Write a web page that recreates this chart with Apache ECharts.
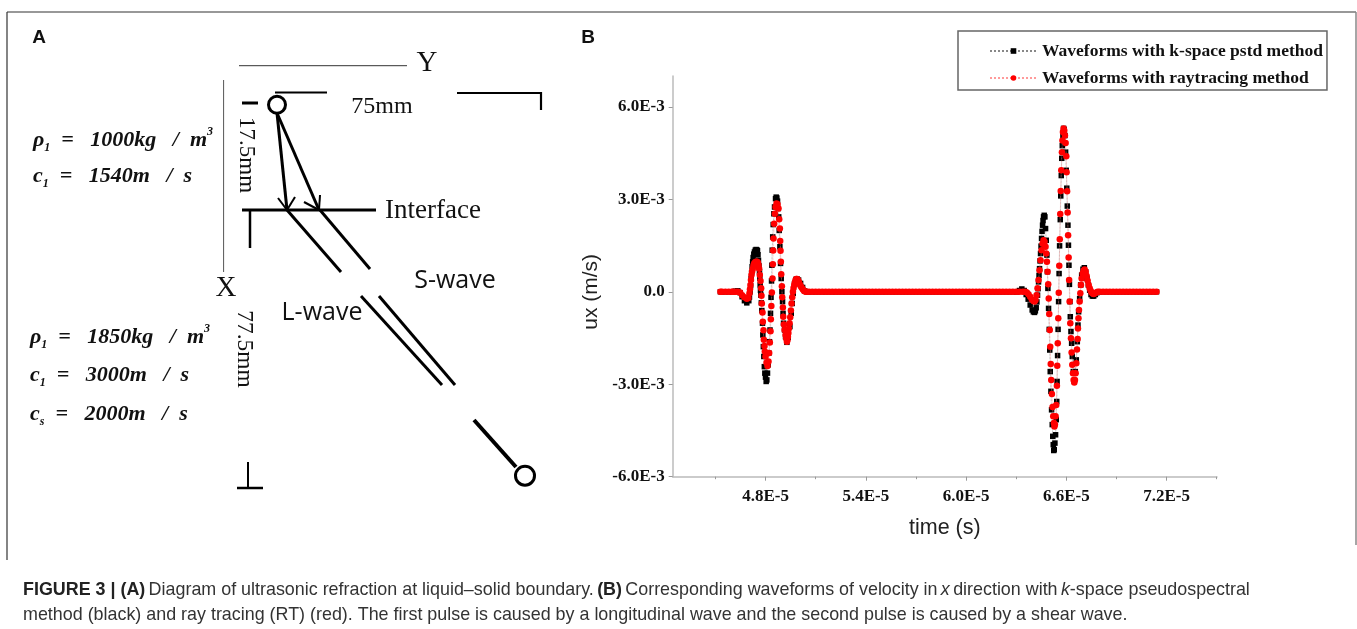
<!DOCTYPE html>
<html><head><meta charset="utf-8">
<style>html,body{margin:0;padding:0;background:#fff}#c{width:1357px;height:629px}</style>
<script src="https://cdn.jsdelivr.net/npm/echarts@6/dist/echarts.min.js"></script>
</head><body><div id="c"></div>
<script>
// time in units of 1E-5 s, ux in units of 1E-3 m/s
const seriesNames=['Waveforms with k-space pstd method','Waveforms with raytracing method'];
const xTickValues=[4.8,5.4,6.0,6.6,7.2];
const xMinorValues=[4.5,5.1,5.7,6.3,6.9,7.5];
const yTickValues=[-6,-3,0,3,6];
const flatStart=[4.53,4.54,4.56,4.58,4.60];
const flatMiddle=[5.06,5.08,5.10,5.12,5.14,5.16,5.18,5.20,5.22,5.24,5.26,5.28,5.30,5.32,5.34,5.36,5.38,5.40,5.42,5.44,5.46,5.48,5.50,5.52,5.54,5.56,5.58,5.60,5.62,5.64,5.66,5.68,5.70,5.72,5.74,5.76,5.78,5.80,5.82,5.84,5.86,5.88,5.90,5.92,5.94,5.96,5.98,6.00,6.02,6.04,6.06,6.08,6.10,6.12,6.14,6.16,6.18,6.20,6.22,6.24,6.26,6.28,6.30];
const flatEnd=[6.80,6.82,6.84,6.86,6.88,6.90,6.92,6.94,6.96,6.98,7.00,7.02,7.04,7.06,7.08,7.10,7.12,7.14];
const blackPulse1=[[4.604,0],[4.620,0.02],[4.634,0.03],[4.648,-0.03],[4.660,-0.16],[4.674,-0.29],[4.688,-0.36],[4.700,-0.29],[4.704,-0.17],[4.708,0],[4.711,0.20],[4.714,0.43],[4.717,0.62],[4.720,0.81],[4.723,0.97],[4.726,1.11],[4.730,1.22],[4.734,1.29],[4.739,1.35],[4.744,1.37],[4.748,1.36],[4.752,1.33],[4.755,1.20],[4.758,1.02],[4.761,0.84],[4.764,0.65],[4.766,0.44],[4.768,0.22],[4.770,0.05],[4.772,-0.11],[4.775,-0.36],[4.778,-0.61],[4.782,-1.02],[4.784,-1.40],[4.787,-1.78],[4.790,-2.10],[4.793,-2.43],[4.796,-2.64],[4.800,-2.77],[4.804,-2.91],[4.808,-2.86],[4.812,-2.64],[4.816,-2.37],[4.820,-1.99],[4.824,-1.62],[4.827,-1.24],[4.830,-0.70],[4.833,-0.18],[4.836,0.35],[4.838,0.86],[4.840,1.35],[4.843,1.78],[4.846,2.18],[4.850,2.53],[4.854,2.75],[4.860,3.02],[4.864,3.07],[4.868,3.04],[4.872,2.94],[4.876,2.70],[4.879,2.43],[4.882,1.99],[4.886,1.46],[4.890,0.92],[4.894,0.43],[4.898,0],[4.902,-0.32],[4.905,-0.70],[4.908,-1.02],[4.914,-1.24],[4.920,-1.46],[4.928,-1.64],[4.936,-1.48],[4.946,-1.13],[4.954,-0.70],[4.960,-0.38],[4.966,-0.05],[4.974,0.25],[4.982,0.40],[4.990,0.41],[4.998,0.38],[5.010,0.27],[5.022,0.14],[5.034,0.03],[5.048,0]];
const blackPulse2=[[6.304,0],[6.320,0.04],[6.334,0.09],[6.348,0.04],[6.360,-0.09],[6.372,-0.24],[6.384,-0.43],[6.396,-0.59],[6.403,-0.65],[6.410,-0.67],[6.415,-0.62],[6.420,-0.52],[6.424,-0.33],[6.428,-0.11],[6.431,0.10],[6.434,0.32],[6.437,0.53],[6.440,0.75],[6.443,1.00],[6.446,1.24],[6.449,1.48],[6.452,1.73],[6.455,1.96],[6.458,2.16],[6.461,2.31],[6.464,2.43],[6.468,2.48],[6.472,2.43],[6.476,2.05],[6.480,1.67],[6.484,1.19],[6.487,0.65],[6.490,0.11],[6.494,-0.54],[6.498,-1.22],[6.501,-1.89],[6.504,-2.59],[6.508,-3.23],[6.512,-3.83],[6.516,-4.31],[6.519,-4.69],[6.522,-4.96],[6.525,-5.15],[6.528,-5.12],[6.532,-4.91],[6.536,-4.64],[6.540,-4.15],[6.543,-3.56],[6.545,-2.91],[6.548,-2.07],[6.551,-1.22],[6.554,-0.32],[6.557,0.59],[6.560,1.49],[6.564,2.34],[6.567,3.11],[6.570,3.77],[6.573,4.33],[6.576,4.74],[6.580,5.07],[6.584,5.30],[6.588,5.26],[6.592,5.07],[6.596,4.53],[6.600,3.94],[6.603,3.36],[6.606,2.78],[6.610,2.16],[6.613,1.51],[6.616,0.86],[6.619,0.24],[6.622,-0.32],[6.624,-0.81],[6.628,-1.29],[6.632,-1.67],[6.636,-2.10],[6.642,-2.59],[6.648,-2.91],[6.654,-2.59],[6.660,-2.21],[6.666,-1.62],[6.670,-1.08],[6.674,-0.65],[6.680,-0.22],[6.686,0.22],[6.692,0.54],[6.700,0.73],[6.708,0.78],[6.716,0.65],[6.724,0.43],[6.732,0.22],[6.740,0.05],[6.748,-0.09],[6.756,-0.14],[6.764,-0.14],[6.774,-0.09],[6.784,-0.03],[6.794,0]];
const redPulse1=[[4.604,0],[4.620,0],[4.634,0],[4.648,-0.02],[4.660,-0.11],[4.674,-0.18],[4.688,-0.23],[4.698,-0.20],[4.704,-0.05],[4.707,0.08],[4.710,0.22],[4.713,0.38],[4.716,0.54],[4.720,0.66],[4.724,0.75],[4.728,0.85],[4.732,0.92],[4.738,0.96],[4.744,0.97],[4.749,0.97],[4.754,0.95],[4.758,0.87],[4.762,0.75],[4.766,0.54],[4.770,0.35],[4.774,0.11],[4.776,-0.13],[4.778,-0.38],[4.782,-0.67],[4.784,-0.97],[4.788,-1.25],[4.790,-1.56],[4.794,-1.76],[4.796,-1.94],[4.800,-2.10],[4.806,-2.30],[4.812,-2.41],[4.818,-2.26],[4.822,-1.99],[4.826,-1.65],[4.830,-1.28],[4.832,-0.89],[4.835,-0.46],[4.838,-0.02],[4.842,0.43],[4.844,0.89],[4.846,1.34],[4.848,1.73],[4.852,2.21],[4.856,2.53],[4.860,2.75],[4.866,2.86],[4.872,2.84],[4.878,2.70],[4.882,2.35],[4.886,2.05],[4.888,1.65],[4.890,1.33],[4.892,0.97],[4.894,0.57],[4.898,0.18],[4.900,-0.18],[4.904,-0.51],[4.906,-0.81],[4.910,-1.06],[4.914,-1.24],[4.920,-1.40],[4.924,-1.52],[4.928,-1.62],[4.931,-1.57],[4.934,-1.46],[4.937,-1.34],[4.940,-1.19],[4.944,-1.02],[4.948,-0.83],[4.952,-0.61],[4.956,-0.38],[4.960,-0.18],[4.964,0],[4.968,0.12],[4.972,0.22],[4.976,0.31],[4.980,0.38],[4.984,0.41],[4.988,0.41],[4.992,0.40],[4.996,0.36],[5.000,0.31],[5.004,0.25],[5.010,0.19],[5.016,0.14],[5.023,0.08],[5.030,0.03],[5.037,0.01],[5.044,0]];
const redPulse2=[[6.320,0],[6.340,0],[6.354,0],[6.364,-0.02],[6.374,-0.08],[6.384,-0.16],[6.394,-0.25],[6.404,-0.30],[6.410,-0.32],[6.416,-0.27],[6.422,-0.11],[6.428,0.11],[6.434,0.38],[6.440,0.70],[6.446,1.02],[6.452,1.35],[6.458,1.56],[6.464,1.67],[6.470,1.62],[6.476,1.46],[6.480,1.24],[6.484,0.97],[6.488,0.65],[6.492,0.24],[6.495,-0.22],[6.498,-0.72],[6.501,-1.24],[6.504,-1.78],[6.507,-2.34],[6.510,-2.86],[6.514,-3.32],[6.518,-3.74],[6.522,-4.04],[6.526,-4.26],[6.529,-4.37],[6.532,-4.31],[6.536,-4.04],[6.540,-3.67],[6.544,-3.05],[6.546,-2.40],[6.549,-1.67],[6.552,-0.86],[6.555,-0.03],[6.558,0.84],[6.561,1.70],[6.564,2.52],[6.567,3.27],[6.570,3.94],[6.574,4.53],[6.577,4.91],[6.580,5.18],[6.584,5.30],[6.588,5.23],[6.592,5.07],[6.596,4.83],[6.600,4.40],[6.602,3.88],[6.605,3.26],[6.608,2.57],[6.611,1.83],[6.614,1.11],[6.617,0.38],[6.620,-0.32],[6.624,-1.02],[6.628,-1.51],[6.632,-1.97],[6.636,-2.37],[6.640,-2.64],[6.644,-2.86],[6.648,-2.94],[6.652,-2.86],[6.656,-2.64],[6.660,-2.32],[6.664,-1.87],[6.668,-1.53],[6.670,-1.19],[6.673,-0.86],[6.676,-0.59],[6.680,-0.32],[6.684,-0.05],[6.688,0.22],[6.692,0.43],[6.698,0.59],[6.704,0.69],[6.710,0.72],[6.716,0.65],[6.722,0.51],[6.728,0.36],[6.734,0.22],[6.740,0.11],[6.746,0.03],[6.752,-0.02],[6.758,-0.06],[6.764,-0.07],[6.772,-0.05],[6.780,-0.02],[6.788,0]];

const flat=a=>a.map(t=>[t,0]);
const blackData=[...flat(flatStart),...blackPulse1,...flat(flatMiddle),...blackPulse2,...flat(flatEnd)];
const redData=[...flat(flatStart),...redPulse1,...flat(flatMiddle),...redPulse2,...flat(flatEnd)];

const SERIF='"Liberation Serif"',SANS='"Liberation Sans"';
const line=(x1,y1,x2,y2,w,c)=>({type:'line',silent:true,shape:{x1,y1,x2,y2},style:{stroke:c||'#000',lineWidth:w}});
const ring=(cx,cy,r,w)=>({type:'circle',silent:true,shape:{cx,cy,r},style:{fill:'#fff',stroke:'#000',lineWidth:w}});
const label=(text,x,y,font,size,opt)=>Object.assign({type:'text',silent:true,x,y,style:{text,fontFamily:font,fontSize:size,fill:'#111',align:'center',verticalAlign:'middle'}},opt||{});
const formula=(text,x,y)=>({type:'text',silent:true,x,y,style:{text,fill:'#111',align:'left',verticalAlign:'middle',rich:{
  m:{fontFamily:SERIF,fontStyle:'italic',fontWeight:'bold',fontSize:22,fill:'#111'},
  s:{fontFamily:SERIF,fontStyle:'italic',fontWeight:'bold',fontSize:12,fill:'#111',verticalAlign:'bottom',lineHeight:28},
  u:{fontFamily:SERIF,fontStyle:'italic',fontWeight:'bold',fontSize:12,fill:'#111',verticalAlign:'top',lineHeight:28}}}});
const capRich={n:{fontFamily:SANS,fontSize:17.9,fill:'#333'},b:{fontFamily:SANS,fontSize:17.9,fontWeight:'bold',fill:'#222'},i:{fontFamily:SANS,fontSize:17.9,fontStyle:'italic',fill:'#333'}};
const caption=(text,y)=>({type:'text',silent:true,x:23,y,style:{text,align:'left',verticalAlign:'middle',rich:capRich}});

const graphicElements=[
  line(7,12,1356,12,1.2,'#333'),line(7,12,7,560,1.2,'#333'),line(1356,12,1356,545,1.5,'#888'),
  label('A',39,38,SANS,19,{style:{text:'A',fontFamily:SANS,fontSize:19,fontWeight:'bold',fill:'#111',align:'center',verticalAlign:'middle'}}),
  label('B',588,38,SANS,19,{style:{text:'B',fontFamily:SANS,fontSize:19,fontWeight:'bold',fill:'#111',align:'center',verticalAlign:'middle'}}),
  line(239,65.7,407,65.7,1,'#333'),label('Y',427,63,SERIF,29),
  line(223.6,80,223.6,272,1,'#555'),label('X',226,288,SERIF,29),
  line(275,92.5,327,92.5,2),line(457,93,541,93,2.2),line(541,92,541,110,2.2),
  line(242,103,258,103,3),
  label('17.5mm',246,155,SERIF,23,{rotation:-Math.PI/2}),
  label('75mm',382,107,SERIF,24),
  line(277,113,287,210,3),line(277,113,319,210,3),
  line(278,198,287,210,2),line(295,197,287,210,2),line(304,202,319,210,2),line(320,195,319,210,2),
  line(242,210,376,210,3),line(250,211,250,248,2.5),
  label('Interface',433,211,SERIF,27),
  line(287,210,341,272,3),line(320,210,370,269,3),
  line(361,296,442,385,3),line(379,296,455,385,3),line(474,420,516,467,4),
  ring(277,104.7,8.5,3),ring(525,475.7,9.5,3),
  label('S-wave',455,281,'"Open Sans"',25),label('L-wave',322,313,'"Open Sans"',25),
  label('77.5mm',244.6,349,SERIF,23.5,{rotation:-Math.PI/2}),
  line(237,488,263,488,2.5),line(248,462,248,488,2),
  formula('{m|ρ}{s|1}{m|  =   1000kg   /  m}{u|3}',33,140),
  formula('{m|c}{s|1}{m|  =   1540m   /  s}',33,176),
  formula('{m|ρ}{s|1}{m|  =   1850kg   /  m}{u|3}',30,337),
  formula('{m|c}{s|1}{m|  =   3000m   /  s}',30,375),
  formula('{m|c}{s|s}{m|  =   2000m   /  s}',30,414),
  caption('{b|FIGURE 3 | (A)} {n|Diagram of ultrasonic refraction at liquid–solid boundary.} {b|(B)} {n|Corresponding waveforms of velocity in} {i|x} {n|direction with} {i|k}{n|-space pseudospectral}',590),
  caption('{n|method (black) and ray tracing (RT) (red). The first pulse is caused by a longitudinal wave and the second pulse is caused by a shear wave.}',615)
];

const xMin=4.2446,xMax=7.502;
const chart=echarts.init(document.getElementById('c'),null,{renderer:'canvas'});
chart.setOption({
  animation:false,backgroundColor:'#fff',
  grid:{left:672.7,right:140,top:76,bottom:152.3},
  legend:{left:958,top:31,orient:'vertical',itemWidth:47,itemHeight:7,itemGap:9,padding:[11,4,3,31],borderColor:'#666',borderWidth:1.5,borderRadius:0,selectedMode:false,
    textStyle:{fontFamily:SERIF,fontWeight:'bold',fontSize:17.5,color:'#111'},data:seriesNames},
  xAxis:[
   {type:'value',min:xMin,max:xMax,position:'bottom',name:'time (s)',nameLocation:'middle',nameGap:40,
    nameTextStyle:{fontFamily:SANS,fontSize:21.5,color:'#222'},splitLine:{show:false},
    axisLine:{onZero:false,lineStyle:{color:'#bbb',width:1.5}},
    axisTick:{show:true,length:4,lineStyle:{color:'#999',width:1},customValues:xTickValues},
    axisLabel:{show:true,customValues:xTickValues,margin:11,fontFamily:SERIF,fontWeight:'bold',fontSize:17,color:'#111',formatter:v=>v.toFixed(1)+'E-5'}},
   {type:'value',min:xMin,max:xMax,position:'bottom',splitLine:{show:false},
    axisLine:{show:false,onZero:false},axisTick:{show:true,length:2.5,lineStyle:{color:'#999',width:1},customValues:xMinorValues},axisLabel:{show:false}}
  ],
  yAxis:{type:'value',min:-6,max:7,name:'ux (m/s)',nameLocation:'middle',nameGap:71,nameRotate:90,
    nameTextStyle:{fontFamily:SANS,fontSize:21,color:'#222',padding:[0,31,0,0]},splitLine:{show:false},
    axisLine:{show:true,lineStyle:{color:'#bbb',width:1.5}},
    axisTick:{show:true,length:4,lineStyle:{color:'#999',width:1},customValues:yTickValues},
    axisLabel:{show:true,customValues:yTickValues,margin:8,fontFamily:SERIF,fontWeight:'bold',fontSize:17,color:'#111',formatter:v=>v===0?'0.0':v.toFixed(1)+'E-3'}},
  series:[
   {name:seriesNames[0],type:'line',xAxisIndex:0,data:blackData,symbol:'rect',symbolSize:5.5,showSymbol:true,showAllSymbol:true,silent:true,
    itemStyle:{color:'#000'},lineStyle:{color:'#888',type:'dotted',width:0.7},z:2},
   {name:seriesNames[1],type:'line',xAxisIndex:0,data:redData,symbol:'circle',symbolSize:6.5,showSymbol:true,showAllSymbol:true,silent:true,
    itemStyle:{color:'#ff0000'},lineStyle:{color:'#ff9a9a',type:'dotted',width:0.7},z:3}
  ],
  graphic:{elements:graphicElements}
});
</script></body></html>
